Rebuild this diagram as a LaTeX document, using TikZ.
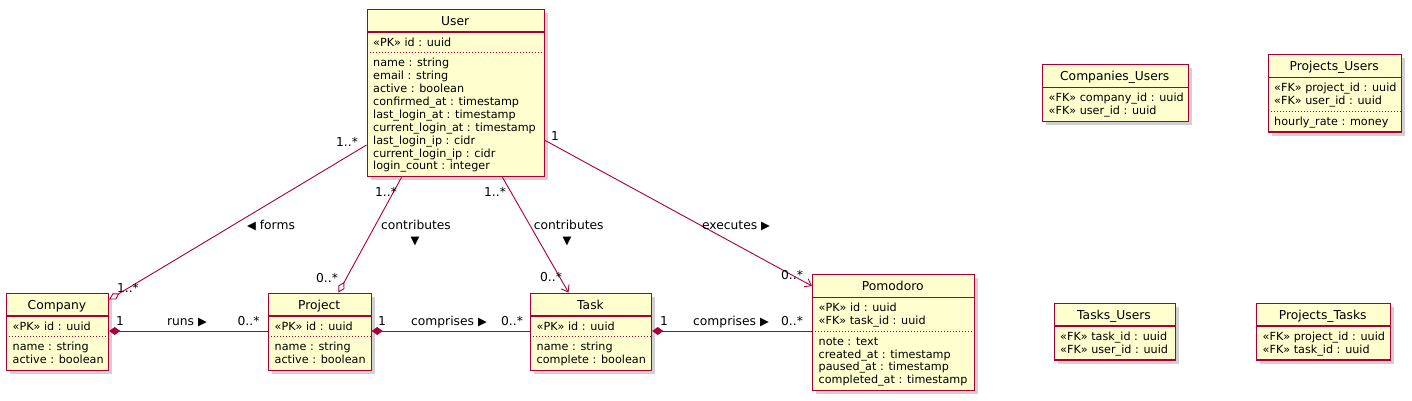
\documentclass[tikz,border=0pt]{standalone}
\usepackage{fontspec}
\setmainfont{DejaVu Sans}
\usetikzlibrary{shadows,arrows.meta}

\definecolor{umlred}{HTML}{A80036}
\definecolor{umlfill}{HTML}{FEFECE}

\newcommand{\trir}{{\fontsize{11.5}{11.5}\selectfont ▶}}
\newcommand{\tril}{{\fontsize{11.5}{11.5}\selectfont ◀}}
\newcommand{\trid}{{\fontsize{11.5}{11.5}\selectfont ▼}}

\tikzset{
  entity/.style={rectangle, draw=umlred, fill=umlfill, line width=1.2pt, inner sep=0pt,
    anchor=north west, drop shadow={shadow xshift=3.5pt, shadow yshift=-3.5pt, fill=black!45, opacity=0.4}},
  hdr/.style={draw=umlred, line width=1.2pt},
  sep/.style={draw=umlred, line width=0.6pt, dash pattern=on 1pt off 2pt},
  title/.style={anchor=base, inner sep=0pt, font=\fontsize{12.3}{14}\selectfont},
  attr/.style={anchor=north west, inner sep=0pt, align=left, font=\fontsize{11.2}{12.9}\selectfont},
  lbl/.style={anchor=base, inner sep=0pt, font=\fontsize{12.3}{14}\selectfont},
  tri/.style={inner sep=0pt},
  agg/.style={draw=umlred, line width=0.9pt, -{Diamond[length=12pt, width=7pt, fill=white]}},
  comp/.style={draw=umlred, line width=0.9pt, {Diamond[length=11pt, width=8pt, fill=umlred]}-},
  assoc/.style={draw=umlred, line width=0.9pt, -{Straight Barb[length=6pt, width=9pt]}}
}

\begin{document}
\begin{tikzpicture}[x=1pt, y=-1pt]
  \useasboundingbox (0,0) rectangle (1412,400);

  % User
  \node[entity, minimum width=177.5pt, minimum height=167.7pt] (user) at (366.5,8.5) {};
  \draw[hdr] (366.5,32) -- (544,32);
  \node[title] (user-t) at (455.25,25) {User};
  \node[attr] (user-k) at (373,37) {\strut«PK» id : uuid};
  \draw[sep] (366.5,52.5) -- (544,52.5);
  \node[attr] (user-f) at (373,57.47) {\strut name : string\\email : string\\active : boolean\\
    confirmed\_at : timestamp\\last\_login\_at : timestamp\\current\_login\_at : timestamp\\
    last\_login\_ip : cidr\\current\_login\_ip : cidr\\login\_count : integer};

  % Company
  \node[entity, minimum width=102pt, minimum height=77.4pt] (company) at (6,292.5) {};
  \draw[hdr] (6,316) -- (108,316);
  \node[title] (company-t) at (57,309) {Company};
  \node[attr] (company-k) at (12.5,320.97) {\strut«PK» id : uuid};
  \draw[sep] (6,336.5) -- (108,336.5);
  \node[attr] (company-f) at (12.5,341.47) {\strut name : string\\active : boolean};

  % Project
  \node[entity, minimum width=102.5pt, minimum height=77.4pt] (project) at (268,292.5) {};
  \draw[hdr] (268,316) -- (370.5,316);
  \node[title] (project-t) at (319.25,309) {Project};
  \node[attr] (project-k) at (274.5,320.97) {\strut«PK» id : uuid};
  \draw[sep] (268,336.5) -- (370.5,336.5);
  \node[attr] (project-f) at (274.5,341.47) {\strut name : string\\active : boolean};

  % Task
  \node[entity, minimum width=121pt, minimum height=77.4pt] (task) at (530,292.5) {};
  \draw[hdr] (530,316) -- (651,316);
  \node[title] (task-t) at (590.5,309) {Task};
  \node[attr] (task-k) at (536.5,320.97) {\strut«PK» id : uuid};
  \draw[sep] (530,336.5) -- (651,336.5);
  \node[attr] (task-f) at (536.5,341.47) {\strut name : string\\complete : boolean};

  % Pomodoro
  \node[entity, minimum width=161.5pt, minimum height=116.1pt] (pomodoro) at (812,274) {};
  \draw[hdr] (812,297.5) -- (973.5,297.5);
  \node[title] (pomodoro-t) at (892.75,290.5) {Pomodoro};
  \node[attr] (pomodoro-k) at (818.5,302.47) {\strut«PK» id : uuid\\«FK» task\_id : uuid};
  \draw[sep] (812,330.9) -- (973.5,330.9);
  \node[attr] (pomodoro-f) at (818.5,335.87) {\strut note : text\\created\_at : timestamp\\
    paused\_at : timestamp\\completed\_at : timestamp};

  % join tables
  \node[entity, minimum width=145.5pt, minimum height=56.9pt] (compusers) at (1042,64) {};
  \draw[hdr] (1042,87.5) -- (1187.5,87.5);
  \node[title] (compusers-t) at (1114.75,80.5) {Companies\_Users};
  \node[attr] (compusers-k) at (1048.5,92.47) {\strut«FK» company\_id : uuid\\«FK» user\_id : uuid};

  \node[entity, minimum width=133.5pt, minimum height=77.4pt] (projusers) at (1267.5,54) {};
  \draw[hdr] (1267.5,77.5) -- (1401,77.5);
  \node[title] (projusers-t) at (1334.25,70.5) {Projects\_Users};
  \node[attr] (projusers-k) at (1274,82.47) {\strut«FK» project\_id : uuid\\«FK» user\_id : uuid};
  \draw[sep] (1267.5,110.9) -- (1401,110.9);
  \node[attr] (projusers-f) at (1274,115.87) {\strut hourly\_rate : money};

  \node[entity, minimum width=121pt, minimum height=56.9pt] (taskusers) at (1053.5,302.5) {};
  \draw[hdr] (1053.5,326) -- (1174.5,326);
  \node[title] (taskusers-t) at (1114,319) {Tasks\_Users};
  \node[attr] (taskusers-k) at (1060,330.97) {\strut«FK» task\_id : uuid\\«FK» user\_id : uuid};

  \node[entity, minimum width=133.5pt, minimum height=56.9pt] (projtasks) at (1256,302.5) {};
  \draw[hdr] (1256,326) -- (1389.5,326);
  \node[title] (projtasks-t) at (1322.75,319) {Projects\_Tasks};
  \node[attr] (projtasks-k) at (1262.5,330.97) {\strut«FK» project\_id : uuid\\«FK» task\_id : uuid};

  % relations from User
  \draw[agg] ([shift={(0,136.5)}]user.north west) -- ([shift={(0,7)}]company.north east);
  \draw[agg] ([shift={(35,0)}]user.south west) -- ([shift={(70.5,0)}]project.north west);
  \draw[assoc] ([shift={(136,0)}]user.south west) -- ([shift={(38.5,0)}]task.north west);
  \draw[assoc] ([shift={(0,132)}]user.north east) -- ([shift={(0,12)}]pomodoro.north west);

  \node[lbl] (uc-a) at (347,146) {1..*};
  \node[lbl] (uc-b) at (128,292) {1..*};
  \node[lbl] (uc-l) at (271,229) {\tril{} forms};
  \node[lbl] (up-a) at (386,196.5) {1..*};
  \node[lbl] (up-b) at (327,282.3) {0..*};
  \node[lbl] (up-l) at (416,229) {contributes};
  \node[tri] (up-v) at (415,242) {\trid};
  \node[lbl] (ut-a) at (495,196) {1..*};
  \node[lbl] (ut-b) at (551,281.7) {0..*};
  \node[lbl] (ut-l) at (568.7,229) {contributes};
  \node[tri] (ut-v) at (567,242) {\trid};
  \node[lbl] (um-a) at (555,140.7) {1};
  \node[lbl] (um-b) at (792,279.3) {0..*};
  \node[lbl] (um-l) at (736,229) {executes \trir};

  % compositions along the bottom row
  \draw[comp] ([shift={(0,38.5)}]company.north east) -- ([shift={(0,38.5)}]project.north west);
  \draw[comp] ([shift={(0,38.5)}]project.north east) -- ([shift={(0,38.5)}]task.north west);
  \draw[comp] ([shift={(0,38.5)}]task.north east) -- ([shift={(0,57)}]pomodoro.north west);

  \node[lbl] (cp-a) at (120,325.5) {1};
  \node[lbl] (cp-l) at (187,325.5) {runs \trir};
  \node[lbl] (cp-b) at (248.5,325.5) {0..*};
  \node[lbl] (pt-a) at (382,325.5) {1};
  \node[lbl] (pt-l) at (449,325.5) {comprises \trir};
  \node[lbl] (pt-b) at (512,325.5) {0..*};
  \node[lbl] (tp-a) at (664,325.5) {1};
  \node[lbl] (tp-l) at (731,325.5) {comprises \trir};
  \node[lbl] (tp-b) at (792,325.5) {0..*};
\end{tikzpicture}
\end{document}
